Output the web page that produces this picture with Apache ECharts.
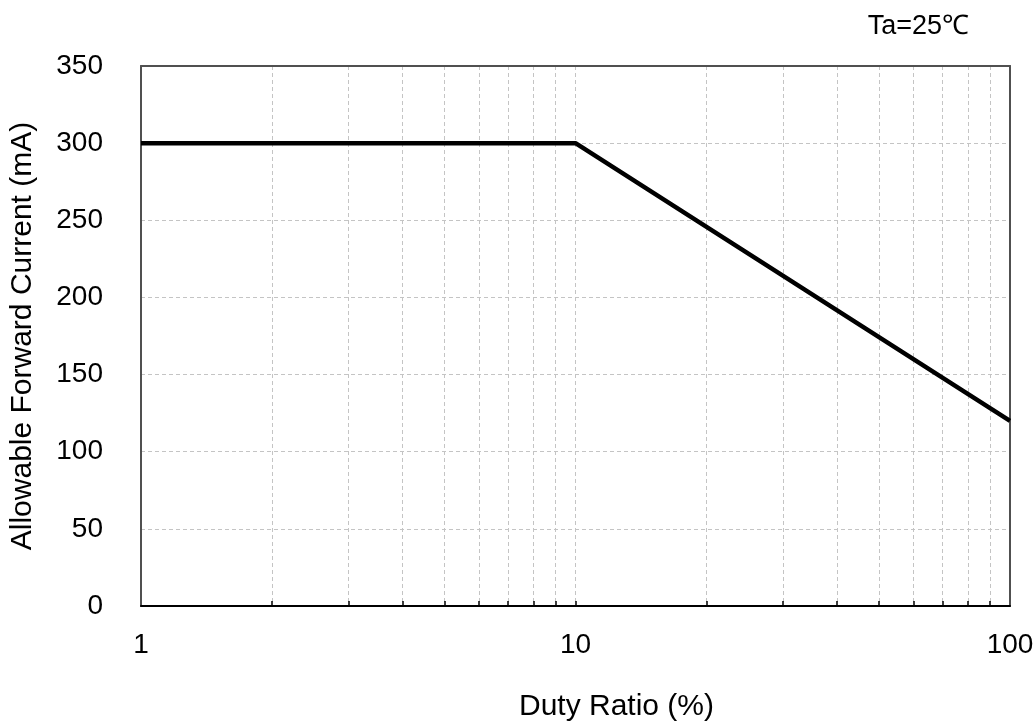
<!DOCTYPE html>
<html>
<head>
<meta charset="utf-8">
<script src="https://cdn.jsdelivr.net/npm/echarts@6/dist/echarts.min.js"></script>
<style>
  html, body { margin: 0; padding: 0; background: #fff; }
  #chart { width: 1034px; height: 724px; }
</style>
</head>
<body>
<div id="chart"></div>
<script>
// derating curve
const dutyRatio = [1, 10, 100];
const forwardCurrent = [300, 300, 120];
const xLabels = [1, 10, 100];
const xGridTicks = [2, 3, 4, 5, 6, 7, 8, 9, 10, 20, 30, 40, 50, 60, 70, 80, 90];

const font = "Liberation Sans, Arial, sans-serif";
const labelSize = 28;
const nameSize = 30;
const gridColor = "#c4c4c4";

const chart = echarts.init(document.getElementById("chart"), null, { renderer: "canvas" });

// plain frame axes used only for the top and right border lines
const frameX = {
  type: "log", min: 1, max: 100, position: "top",
  axisLine: { show: true, onZero: false, lineStyle: { color: "#505050", width: 2 } },
  axisTick: { show: false }, axisLabel: { show: false }, splitLine: { show: false },
};
const frameY = {
  type: "value", min: 0, max: 350, position: "right",
  axisLine: { show: true, lineStyle: { color: "#505050", width: 2 } },
  axisTick: { show: false }, axisLabel: { show: false }, splitLine: { show: false },
};

chart.setOption({
  animation: false,
  backgroundColor: "#fff",
  textStyle: { fontFamily: font },
  title: {
    text: "Ta=25℃",
    right: 60,
    top: 8,
    textStyle: { fontFamily: font, fontSize: 27, fontWeight: "normal", color: "#000" },
  },
  grid: {
    left: 141,
    right: 24,
    top: 66,
    bottom: 118,
    outerBoundsMode: "none",
  },
  xAxis: [
    {
      type: "log",
      logBase: 10,
      min: 1,
      max: 100,
      name: "Duty Ratio (%)",
      nameLocation: "middle",
      nameGap: 86,
      nameTextStyle: {
        fontFamily: font, fontSize: nameSize, color: "#000",
        padding: [0, 0, 0, 82],
      },
      axisLine: { show: true, onZero: false, lineStyle: { color: "#000", width: 2 } },
      axisTick: {
        show: true,
        inside: true,
        length: 5,
        customValues: xGridTicks,
        lineStyle: { color: "#000", width: 1.5 },
      },
      minorTick: { show: false },
      axisLabel: {
        customValues: xLabels,
        margin: 25,
        fontFamily: font,
        fontSize: labelSize,
        color: "#000",
        formatter: (v) => String(v),
      },
      splitLine: {
        show: true,
        lineStyle: { color: gridColor, type: [4, 3], width: 1 },
      },
    },
    frameX,
  ],
  yAxis: [
    {
      type: "value",
      min: 0,
      max: 350,
      interval: 50,
      name: "Allowable Forward Current (mA)",
      nameLocation: "middle",
      nameGap: 103,
      nameTextStyle: { fontFamily: font, fontSize: nameSize, color: "#000" },
      axisLine: { show: true, lineStyle: { color: "#505050", width: 2 } },
      axisTick: { show: false },
      axisLabel: {
        margin: 38,
        fontFamily: font,
        fontSize: labelSize,
        color: "#000",
      },
      splitLine: {
        show: true,
        lineStyle: { color: gridColor, type: [4, 3], width: 1 },
      },
    },
    frameY,
  ],
  series: [
    {
      type: "line",
      xAxisIndex: 0,
      yAxisIndex: 0,
      data: dutyRatio.map((x, i) => [x, forwardCurrent[i]]),
      symbol: "none",
      lineStyle: { color: "#000", width: 4.5 },
      z: 5,
    },
  ],
});
</script>
</body>
</html>
